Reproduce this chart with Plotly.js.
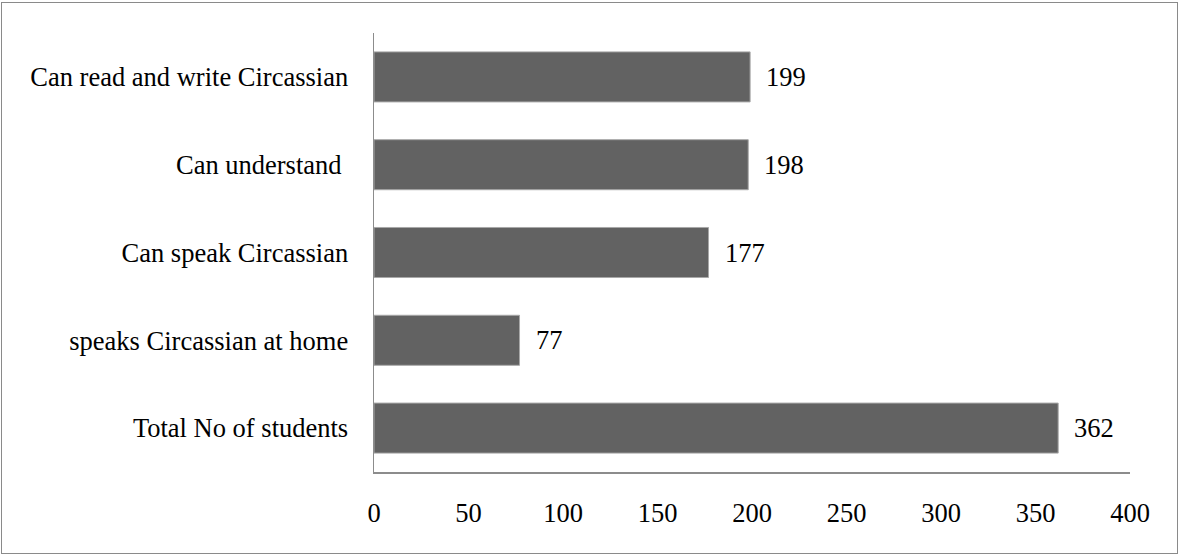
<!DOCTYPE html>
<html>
<head>
<meta charset="utf-8">
<script src="https://cdn.plot.ly/plotly-3.0.1.min.js"></script>
<style>
  html, body { margin: 0; padding: 0; background: #fff; }
  #wrap { position: relative; width: 1179px; height: 557px; }
  #chart { width: 1179px; height: 557px; }
  #frame { position: absolute; left: 1px; top: 2px; width: 1175px; height: 550px;
           border: 1px solid #8a8a8a; pointer-events: none; }
</style>
</head>
<body>
<div id="wrap">
  <div id="chart"></div>
  <div id="frame"></div>
</div>
<script>
// Circassian language skills among surveyed students
const categories = [
  "Total No of students",
  "speaks Circassian at home",
  "Can speak Circassian",
  "Can understand\u00a0",
  "Can read and write Circassian"
];
const counts = [362, 77, 177, 198, 199];
const xTicks = [0, 50, 100, 150, 200, 250, 300, 350, 400];

const serif = "Liberation Serif, Times New Roman, serif";
const fs = 26.5;

const trace = {
  type: "bar",
  orientation: "h",
  y: categories,
  x: counts,
  marker: { color: "#626262", line: { color: "#a8a8a8", width: 1 } },
  hoverinfo: "x+y"
};

const valueLabels = categories.map((c, i) => ({
  x: counts[i], y: c, xref: "x", yref: "y",
  text: String(counts[i]),
  showarrow: false, xanchor: "left", xshift: 14,
  font: { family: serif, size: fs, color: "#000" }
}));

const layout = {
  width: 1179, height: 557,
  margin: { l: 374, r: 49, t: 33, b: 85 },
  paper_bgcolor: "#fff", plot_bgcolor: "#fff",
  showlegend: false,
  bargap: 0.43,
  font: { family: serif, size: fs, color: "#000" },
  xaxis: {
    range: [0, 400], tickvals: xTicks, ticktext: xTicks.map(String),
    showgrid: false, zeroline: false,
    showline: true, linecolor: "#8c8c8c", linewidth: 1.5,
    ticks: "outside", ticklen: 17, tickcolor: "rgba(0,0,0,0)",
    tickfont: { family: serif, size: fs, color: "#000" }
  },
  yaxis: {
    categoryorder: "array", categoryarray: categories,
    showgrid: false, zeroline: false,
    showline: true, linecolor: "#8c8c8c", linewidth: 1.5,
    ticks: "outside", ticklen: 19, tickcolor: "rgba(0,0,0,0)",
    tickfont: { family: serif, size: fs, color: "#000" }
  },
  annotations: valueLabels
};

Plotly.newPlot("chart", [trace], layout, { displayModeBar: false, staticPlot: true });
</script>
</body>
</html>
